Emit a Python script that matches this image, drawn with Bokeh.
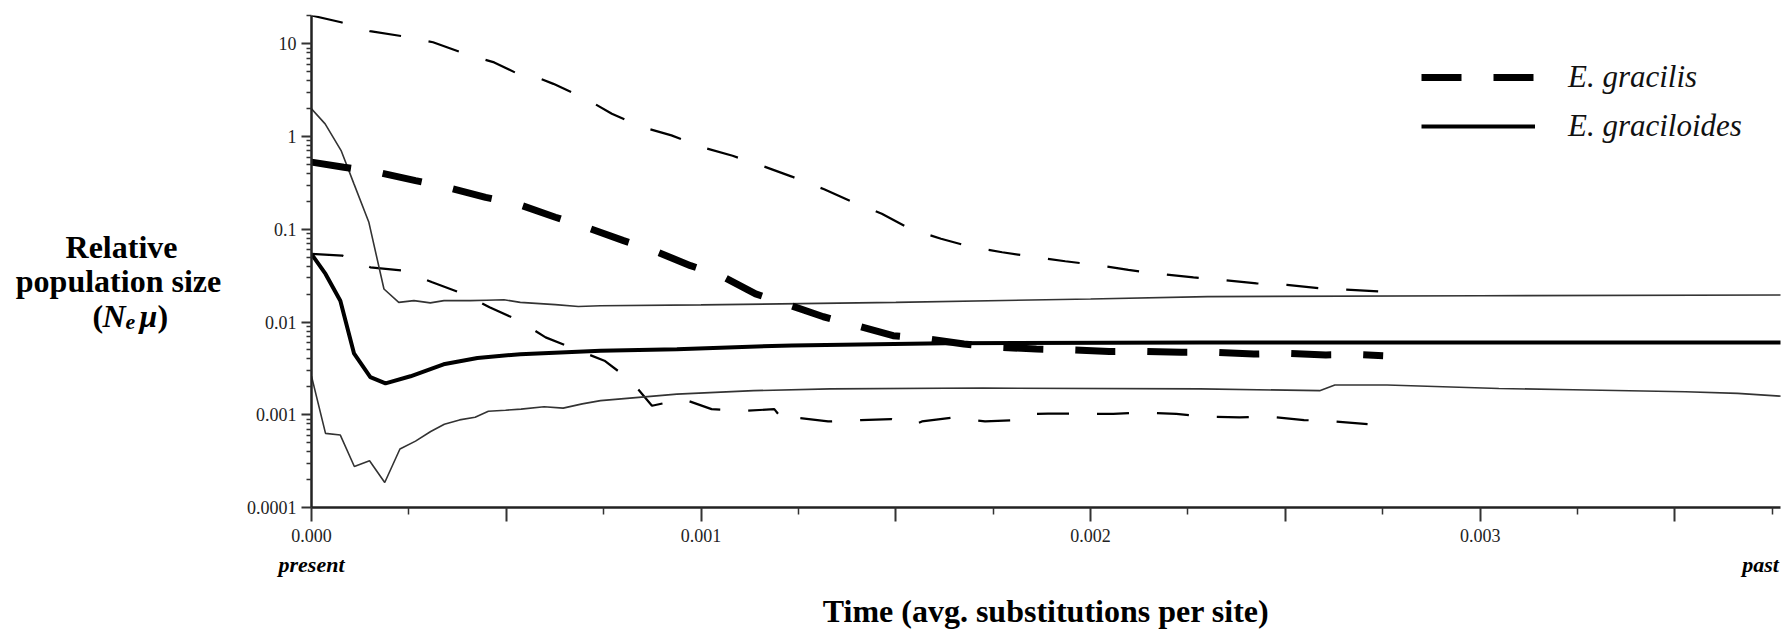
from bokeh.plotting import figure
from bokeh.models import Range1d, FixedTicker, Label, Legend, LegendItem, LinearAxis
from bokeh.layouts import row
from bokeh.embed import file_html
from bokeh.resources import INLINE

# ---------------- data (x: avg. substitutions per site, y: Ne*mu) ----------------
# E. gracilis median (thick dashed)
gracilis_med_x = [0.0, 0.000083, 0.000169, 0.000267, 0.000348, 0.000447, 0.000528, 0.000626,
                  0.000705, 0.000801, 0.000879, 0.000973, 0.001051, 0.001140, 0.001223, 0.001314,
                  0.001400, 0.001493, 0.001582, 0.001675, 0.001763, 0.001861, 0.001950, 0.002048,
                  0.002137, 0.002233, 0.002318, 0.002419, 0.002502, 0.002604, 0.002687, 0.002751]
gracilis_med_y = [0.53, 0.467, 0.412, 0.335, 0.284, 0.221, 0.188, 0.135,
                  0.105, 0.0755, 0.0589, 0.0405, 0.0316, 0.0201, 0.0154, 0.0114,
                  0.00915, 0.00713, 0.00656, 0.00579, 0.00533, 0.00512, 0.0050, 0.00482,
                  0.00482, 0.00471, 0.00471, 0.00452, 0.00459, 0.00442, 0.00445, 0.00434]

# E. gracilis upper 95% HPD (thin dashed)
gracilis_hi_x = [0.0, 0.000076, 0.000150, 0.000238, 0.000312, 0.000395, 0.000469, 0.000523,
                 0.000552, 0.000621, 0.000705, 0.000771, 0.000845, 0.000924, 0.001002, 0.001081,
                 0.001159, 0.001233, 0.001316, 0.001385, 0.001464, 0.001537, 0.001616, 0.001690,
                 0.001773, 0.001851, 0.001935, 0.002013, 0.002097, 0.002176, 0.002264, 0.002339,
                 0.002426, 0.002504, 0.002590, 0.002668, 0.002744]
gracilis_hi_y = [20.2, 17.1, 13.7, 12.0, 10.4, 7.8, 6.3, 4.9,
                 4.8, 3.7, 2.55, 1.76, 1.28, 1.03, 0.77, 0.62,
                 0.48, 0.37, 0.27, 0.20, 0.147, 0.101, 0.079, 0.065,
                 0.0565, 0.0507, 0.0452, 0.0413, 0.0365, 0.0330, 0.0303, 0.0284,
                 0.0261, 0.0251, 0.0231, 0.0222, 0.0213]

# E. gracilis lower 95% HPD (thin dashed)
gracilis_lo_x = [0.0, 0.000079, 0.000151, 0.000237, 0.000310, 0.000391, 0.000457, 0.000533,
                 0.000601, 0.000675, 0.000752, 0.000820, 0.000874, 0.000953, 0.001027, 0.001110,
                 0.001188, 0.001218, 0.001253, 0.001326, 0.001410, 0.001488, 0.001547, 0.001567,
                 0.001650, 0.001729, 0.001812, 0.001852, 0.001891, 0.001969, 0.002058, 0.002137,
                 0.002220, 0.002296, 0.002382, 0.002462, 0.002548, 0.002625, 0.002711]
gracilis_lo_y = [0.0542, 0.052, 0.0389, 0.0358, 0.0268, 0.0201, 0.0144, 0.01035,
                 0.00683, 0.00512, 0.00383, 0.00233, 0.00125, 0.00148, 0.00115, 0.00110,
                 0.00115, 0.000806, 0.000922, 0.000847, 0.000877, 0.000899, 0.00078, 0.000847,
                 0.000936, 0.000847, 0.000877, 0.00102, 0.00103, 0.00103, 0.00102, 0.00106,
                 0.00102, 0.000952, 0.000936, 0.000952, 0.000877, 0.000847, 0.000794]

# E. graciloides median (thick solid)
graciloides_med_x = [0.0, 0.000036, 0.000074, 0.000109, 0.000151, 0.000190, 0.000254, 0.000339,
                     0.000426, 0.000536, 0.000742, 0.000938, 0.001233, 0.001626, 0.002282, 0.00378]
graciloides_med_y = [0.054, 0.033, 0.017, 0.0046, 0.00255, 0.00218, 0.0026, 0.0035,
                     0.0041, 0.0045, 0.0049, 0.0051, 0.0056, 0.0059, 0.0060, 0.0060]

# E. graciloides upper 95% HPD (thin solid)
graciloides_hi_x = [0.0, 0.000035, 0.000076, 0.000109, 0.000147, 0.000186, 0.000224, 0.000263,
                    0.000305, 0.000340, 0.000408, 0.000449, 0.000494, 0.000536, 0.000626, 0.000685,
                    0.000742, 0.001000, 0.001500, 0.002000, 0.002300, 0.003000, 0.00378]
graciloides_hi_y = [1.99, 1.37, 0.706, 0.309, 0.12, 0.0227, 0.0163, 0.017,
                    0.0161, 0.017, 0.017, 0.0172, 0.0174, 0.0163, 0.0154, 0.0147,
                    0.015, 0.0153, 0.0163, 0.0177, 0.0188, 0.0192, 0.0196]

# E. graciloides lower 95% HPD (thin solid)
graciloides_lo_x = [0.0, 0.000036, 0.000074, 0.000110, 0.000149, 0.000188, 0.000227, 0.000267,
                    0.000306, 0.000341, 0.000380, 0.000420, 0.000454, 0.000498, 0.000538, 0.000597,
                    0.000646, 0.000695, 0.000742, 0.000840, 0.000938, 0.001135, 0.001331, 0.001724,
                    0.002282, 0.002588, 0.002627, 0.002761, 0.003048, 0.003239, 0.003527, 0.003661,
                    0.00378]
graciloides_lo_y = [0.0026, 0.00063, 0.000604, 0.000277, 0.000319, 0.000186, 0.000427, 0.00052,
                    0.00066, 0.00079, 0.00088, 0.00094, 0.00109, 0.00112, 0.00115, 0.00122,
                    0.00118, 0.00131, 0.00142, 0.00154, 0.00167, 0.00182, 0.0019, 0.00194,
                    0.0019, 0.00182, 0.00209, 0.00209, 0.00192, 0.00186, 0.00177, 0.0017,
                    0.00158]

# axis ticks / labels
x_major_ticks = [0.0, 0.0005, 0.001, 0.0015, 0.002, 0.0025, 0.003, 0.0035]
x_major_labels = ["0.000", "", "0.001", "", "0.002", "", "0.003", ""]
x_minor_ticks = [0.00025, 0.00075, 0.00125, 0.00175, 0.00225, 0.00275, 0.00325, 0.00375]
y_major_ticks = [1e-4, 1e-3, 1e-2, 1e-1, 1.0, 10.0]
y_major_labels = ["0.0001", "0.001", "0.01", "0.1", "1", "10"]
y_minor_ticks = [k * d for d in [1e-4, 1e-3, 1e-2, 1e-1, 1.0, 10.0] for k in range(2, 10)]
end_ticks = [0.0, 0.00372]
end_labels = ["present", "past"]

legend_labels = ["E. gracilis", "E. graciloides"]

SERIF = "Liberation Serif"
X_END = 0.003771
W, H = 1783, 633
LEFT_W = 230

# ---------------- main plot ----------------
p = figure(width=W - LEFT_W, height=H, output_backend="svg", toolbar_location=None,
           x_range=Range1d(0, X_END), y_range=Range1d(1e-4, 20.2), y_axis_type="log",
           min_border_left=311 - LEFT_W, min_border_right=3, min_border_top=15, min_border_bottom=126)
p.outline_line_color = None
p.grid.visible = False

for ax in (p.xaxis[0], p.yaxis[0]):
    ax.axis_line_width = 2.5
    ax.axis_line_color = "#222222"
    ax.major_tick_line_color = "#333333"
    ax.minor_tick_line_color = "#333333"
    ax.major_tick_line_width = 2
    ax.minor_tick_line_width = 1.5
    ax.major_tick_in = 0
    ax.minor_tick_in = 0
    ax.major_label_text_font = SERIF
    ax.major_label_text_font_size = "18px"
    ax.major_label_text_color = "#222222"

xa = p.xaxis[0]
xa.ticker = FixedTicker(ticks=x_major_ticks, minor_ticks=x_minor_ticks)
xa.major_label_overrides = {t: l for t, l in zip(x_major_ticks, x_major_labels)}
xa.major_tick_out = 14
xa.minor_tick_out = 7
xa.major_label_standoff = 7

ya = p.yaxis[0]
ya.ticker = FixedTicker(ticks=y_major_ticks, minor_ticks=y_minor_ticks)
ya.major_label_overrides = {t: l for t, l in zip(y_major_ticks, y_major_labels)}
ya.major_tick_out = 10
ya.minor_tick_out = 5
ya.major_label_standoff = 5

# second axis below: "present" / "past" and the axis title
xb = LinearAxis(ticker=FixedTicker(ticks=end_ticks, minor_ticks=[]),
                major_label_overrides={t: l for t, l in zip(end_ticks, end_labels)},
                axis_line_color=None, major_tick_line_color=None, minor_tick_line_color=None,
                major_tick_out=0, major_tick_in=0, minor_tick_out=0, minor_tick_in=0,
                major_label_standoff=7,
                major_label_text_font=SERIF, major_label_text_font_style="bold italic",
                major_label_text_font_size="22px", major_label_text_color="black",
                axis_label="Time (avg. substitutions per site)", axis_label_text_font=SERIF,
                axis_label_text_font_style="bold", axis_label_text_font_size="32px",
                axis_label_text_color="black", axis_label_standoff=13)
p.add_layout(xb, "below")

# ---------------- lines ----------------
p.line(gracilis_hi_x, gracilis_hi_y, line_color="black", line_width=2.2, line_dash="32 28")
p.line(gracilis_lo_x, gracilis_lo_y, line_color="black", line_width=2.2, line_dash="32 28")
p.line(graciloides_hi_x, graciloides_hi_y, line_color="#333333", line_width=1.6)
p.line(graciloides_lo_x, graciloides_lo_y, line_color="#333333", line_width=1.6)
r_gd = p.line(graciloides_med_x, graciloides_med_y, line_color="black", line_width=4)
r_gr = p.line(gracilis_med_x, gracilis_med_y, line_color="black", line_width=7, line_dash="40 32")

legend = Legend(items=[LegendItem(label=legend_labels[0], renderers=[r_gr]),
                       LegendItem(label=legend_labels[1], renderers=[r_gd])],
                location=(1110, 363), orientation="vertical",
                glyph_width=114, glyph_height=36, label_height=36, label_standoff=33,
                spacing=13, padding=0, margin=0,
                border_line_color=None, background_fill_alpha=0,
                label_text_font=SERIF, label_text_font_style="italic",
                label_text_font_size="31px", label_text_color="#111111")
p.add_layout(legend)

# ---------------- left panel: y-axis title ----------------
# (its frame is aligned with the main plot's frame; label y is measured from the frame bottom)
q = figure(width=LEFT_W, height=H, output_backend="svg", toolbar_location=None,
           x_axis_type=None, y_axis_type=None, x_range=Range1d(0, LEFT_W), y_range=Range1d(0, H),
           min_border=0, min_border_left=0, min_border_right=0, min_border_top=15, min_border_bottom=126)
q.outline_line_color = None
q.grid.visible = False

def lab(**kw):
    base = dict(text_font=SERIF, text_color="black", x_units="screen", y_units="screen",
                text_baseline="alphabetic")
    base.update(kw)
    q.add_layout(Label(**base))

lab(x=121, y=261, text="Relative", text_font_style="bold", text_font_size="32px", text_align="center")
lab(x=118, y=227, text="population size", text_font_style="bold", text_font_size="32px", text_align="center")
lab(x=92, y=192, text="(", text_font_style="bold", text_font_size="32px", text_align="left")
lab(x=102, y=192, text="N", text_font_style="bold italic", text_font_size="32px", text_align="left")
lab(x=125, y=186, text="e", text_font_style="bold italic", text_font_size="22px", text_align="left")
lab(x=139, y=192, text="μ", text_font_style="bold italic", text_font_size="32px", text_align="left")
lab(x=157, y=192, text=")", text_font_style="bold", text_font_size="32px", text_align="left")

layout = row(q, p, spacing=0)
open("out.html", "w").write(file_html(layout, INLINE))
